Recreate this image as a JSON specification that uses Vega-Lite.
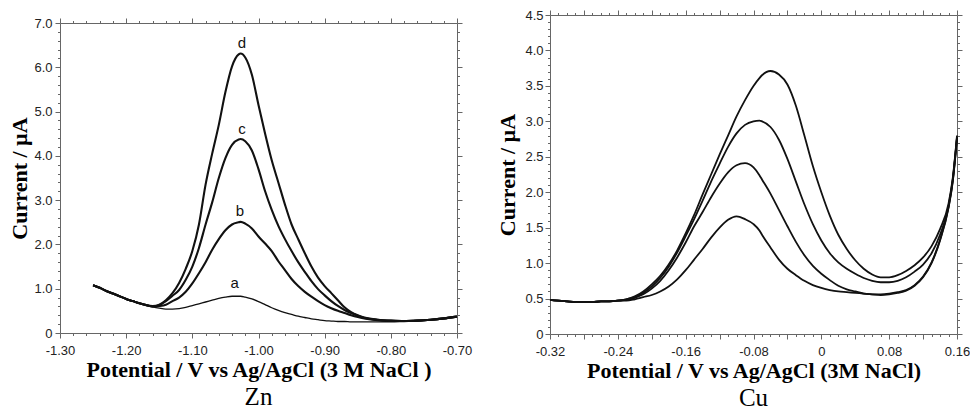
{
  "$schema": "https://vega.github.io/schema/vega-lite/v6.json",
  "background": "white",
  "padding": {"left": 8, "top": 9, "right": 5, "bottom": 2},
  "spacing": 24,
  "config": {
    "view": {"stroke": null},
    "axis": {"domainColor": "#666", "tickColor": "#666", "labelColor": "#222", "labelFont": "Liberation Sans", "labelFontSize": 13, "labelFlush": false, "labelOverlap": false, "grid": false, "titleColor": "#000", "titleFont": "Liberation Serif", "titleFontWeight": "bold", "titleFontSize": 22, "domainWidth": 1, "tickWidth": 1}
  },
  "hconcat": [
    {
      "width": 397,
      "height": 318,
      "title": {"text": "Zn", "orient": "bottom", "font": "Liberation Serif", "fontSize": 25, "fontWeight": "normal", "color": "#000", "offset": 5},
      "data": {"values": [
        {"v": -1.25, "a": 1.08, "b": 1.08, "c": 1.08, "d": 1.08},
        {"v": -1.24, "a": 1.02, "b": 1.02, "c": 1.02, "d": 1.02},
        {"v": -1.23, "a": 0.95, "b": 0.95, "c": 0.95, "d": 0.95},
        {"v": -1.22, "a": 0.89, "b": 0.89, "c": 0.89, "d": 0.89},
        {"v": -1.21, "a": 0.83, "b": 0.83, "c": 0.83, "d": 0.83},
        {"v": -1.2, "a": 0.77, "b": 0.77, "c": 0.77, "d": 0.77},
        {"v": -1.19, "a": 0.72, "b": 0.72, "c": 0.72, "d": 0.72},
        {"v": -1.18, "a": 0.67, "b": 0.67, "c": 0.67, "d": 0.67},
        {"v": -1.17, "a": 0.63, "b": 0.63, "c": 0.63, "d": 0.63},
        {"v": -1.16, "a": 0.59, "b": 0.6, "c": 0.6, "d": 0.61},
        {"v": -1.15, "a": 0.56, "b": 0.61, "c": 0.63, "d": 0.64},
        {"v": -1.14, "a": 0.54, "b": 0.64, "c": 0.72, "d": 0.74},
        {"v": -1.13, "a": 0.54, "b": 0.72, "c": 0.84, "d": 0.9},
        {"v": -1.12, "a": 0.55, "b": 0.8, "c": 0.97, "d": 1.13},
        {"v": -1.11, "a": 0.58, "b": 0.93, "c": 1.2, "d": 1.45},
        {"v": -1.1, "a": 0.62, "b": 1.12, "c": 1.5, "d": 1.85},
        {"v": -1.09, "a": 0.66, "b": 1.35, "c": 1.92, "d": 2.45},
        {"v": -1.08, "a": 0.7, "b": 1.6, "c": 2.45, "d": 3.35},
        {"v": -1.07, "a": 0.74, "b": 1.88, "c": 2.95, "d": 4.05},
        {"v": -1.06, "a": 0.78, "b": 2.12, "c": 3.5, "d": 4.7},
        {"v": -1.05, "a": 0.81, "b": 2.32, "c": 3.95, "d": 5.44},
        {"v": -1.04, "a": 0.83, "b": 2.45, "c": 4.25, "d": 6.02},
        {"v": -1.03, "a": 0.83, "b": 2.5, "c": 4.37, "d": 6.29},
        {"v": -1.027, "a": 0.83, "b": 2.51, "c": 4.38, "d": 6.31},
        {"v": -1.02, "a": 0.81, "b": 2.47, "c": 4.33, "d": 6.22},
        {"v": -1.01, "a": 0.77, "b": 2.36, "c": 4.12, "d": 5.83},
        {"v": -1.0, "a": 0.71, "b": 2.18, "c": 3.7, "d": 5.15},
        {"v": -0.99, "a": 0.64, "b": 2.02, "c": 3.2, "d": 4.5},
        {"v": -0.98, "a": 0.57, "b": 1.85, "c": 2.78, "d": 3.9},
        {"v": -0.97, "a": 0.51, "b": 1.62, "c": 2.42, "d": 3.4},
        {"v": -0.96, "a": 0.46, "b": 1.42, "c": 2.12, "d": 2.9},
        {"v": -0.95, "a": 0.42, "b": 1.22, "c": 1.85, "d": 2.45},
        {"v": -0.94, "a": 0.38, "b": 1.06, "c": 1.6, "d": 2.12},
        {"v": -0.93, "a": 0.35, "b": 0.93, "c": 1.38, "d": 1.8},
        {"v": -0.92, "a": 0.32, "b": 0.82, "c": 1.17, "d": 1.5},
        {"v": -0.91, "a": 0.3, "b": 0.72, "c": 0.99, "d": 1.25},
        {"v": -0.9, "a": 0.28, "b": 0.63, "c": 0.85, "d": 1.06},
        {"v": -0.89, "a": 0.27, "b": 0.56, "c": 0.72, "d": 0.9},
        {"v": -0.88, "a": 0.26, "b": 0.5, "c": 0.61, "d": 0.74},
        {"v": -0.87, "a": 0.26, "b": 0.45, "c": 0.52, "d": 0.58},
        {"v": -0.86, "a": 0.25, "b": 0.4, "c": 0.45, "d": 0.47},
        {"v": -0.85, "a": 0.25, "b": 0.36, "c": 0.39, "d": 0.4},
        {"v": -0.84, "a": 0.25, "b": 0.33, "c": 0.34, "d": 0.35},
        {"v": -0.82, "a": 0.25, "b": 0.29, "c": 0.3, "d": 0.3},
        {"v": -0.8, "a": 0.25, "b": 0.27, "c": 0.28, "d": 0.28},
        {"v": -0.78, "a": 0.26, "b": 0.27, "c": 0.27, "d": 0.27},
        {"v": -0.76, "a": 0.27, "b": 0.28, "c": 0.28, "d": 0.28},
        {"v": -0.74, "a": 0.29, "b": 0.3, "c": 0.3, "d": 0.3},
        {"v": -0.72, "a": 0.32, "b": 0.33, "c": 0.33, "d": 0.33},
        {"v": -0.7, "a": 0.36, "b": 0.37, "c": 0.37, "d": 0.37}
      ]},
      "layer": [
        {
          "transform": [{"fold": ["b", "c", "d"], "as": ["s", "i"]}],
          "mark": {"type": "line", "color": "#111", "strokeWidth": 2.1, "interpolate": "monotone"},
          "encoding": {
            "x": {"field": "v", "type": "quantitative", "scale": {"domain": [-1.3, -0.7], "nice": false, "zero": false},
              "axis": {"orient": "bottom", "values": [-1.3,-1.28,-1.26,-1.24,-1.22,-1.2,-1.18,-1.16,-1.14,-1.12,-1.1,-1.08,-1.06,-1.04,-1.02,-1,-0.98,-0.96,-0.94,-0.92,-0.9,-0.88,-0.86,-0.84,-0.82,-0.8,-0.78,-0.76,-0.74,-0.72,-0.7],
                "labelExpr": "abs(datum.value*10 - round(datum.value*10)) < 0.001 ? (datum.value < 0 ? '-' : '') + format(abs(datum.value), '.2f') : ''",
                "tickSize": {"condition": {"test": "abs(datum.value*10 - round(datum.value*10)) < 0.001", "value": 5}, "value": 2.5},
                "labelPadding": 6, "titlePadding": 2, "title": "Potential / V vs Ag/AgCl (3 M NaCl )"}},
            "y": {"field": "i", "type": "quantitative", "scale": {"domain": [0, 7], "nice": false, "range": [318, 8]},
              "axis": {"orient": "left", "values": [0,0.2,0.4,0.6,0.8,1,1.2,1.4,1.6,1.8,2,2.2,2.4,2.6,2.8,3,3.2,3.4,3.6,3.8,4,4.2,4.4,4.6,4.8,5,5.2,5.4,5.6,5.8,6,6.2,6.4,6.6,6.8,7],
                "labelExpr": "abs(datum.value - round(datum.value)) < 0.001 ? (datum.value == 0 ? '0' : format(datum.value, '.1f')) : ''",
                "tickSize": {"condition": {"test": "abs(datum.value - round(datum.value)) < 0.001", "value": 5}, "value": 2.5},
                "labelPadding": 3, "titlePadding": 2, "title": "Current / µA"}},
            "detail": {"field": "s"}
          }
        },
        {
          "transform": [{"fold": ["a"], "as": ["s", "i"]}],
          "mark": {"type": "line", "color": "#111", "strokeWidth": 1.3, "interpolate": "monotone"},
          "encoding": {
            "x": {"field": "v", "type": "quantitative", "scale": {"domain": [-1.3, -0.7], "nice": false, "zero": false},
              "axis": {"orient": "top", "offset": -8, "labels": false, "title": null, "values": [-1.3,-1.28,-1.26,-1.24,-1.22,-1.2,-1.18,-1.16,-1.14,-1.12,-1.1,-1.08,-1.06,-1.04,-1.02,-1,-0.98,-0.96,-0.94,-0.92,-0.9,-0.88,-0.86,-0.84,-0.82,-0.8,-0.78,-0.76,-0.74,-0.72,-0.7],
                "tickSize": {"condition": {"test": "abs(datum.value*10 - round(datum.value*10)) < 0.001", "value": 5}, "value": 2.5}}},
            "y": {"field": "i", "type": "quantitative", "scale": {"domain": [0, 7], "nice": false, "range": [318, 8]},
              "axis": {"orient": "right", "labels": false, "title": null, "values": [0,0.2,0.4,0.6,0.8,1,1.2,1.4,1.6,1.8,2,2.2,2.4,2.6,2.8,3,3.2,3.4,3.6,3.8,4,4.2,4.4,4.6,4.8,5,5.2,5.4,5.6,5.8,6,6.2,6.4,6.6,6.8,7],
                "tickSize": {"condition": {"test": "abs(datum.value - round(datum.value)) < 0.001", "value": 5}, "value": 2.5}}}
          }
        },
        {
          "data": {"values": [
            {"v": -1.025, "i": 6.55, "t": "d"},
            {"v": -1.025, "i": 4.6, "t": "c"},
            {"v": -1.028, "i": 2.75, "t": "b"},
            {"v": -1.036, "i": 1.14, "t": "a"}
          ]},
          "mark": {"type": "text", "font": "Liberation Sans", "fontSize": 15, "color": "#111", "baseline": "middle"},
          "encoding": {
            "x": {"field": "v", "type": "quantitative", "scale": {"domain": [-1.3, -0.7], "nice": false, "zero": false}, "axis": null},
            "y": {"field": "i", "type": "quantitative", "scale": {"domain": [0, 7], "nice": false, "range": [318, 8]}, "axis": null},
            "text": {"field": "t"}
          }
        }
      ],
      "resolve": {"axis": {"x": "independent", "y": "independent"}}
    },
    {
      "width": 407,
      "height": 319,
      "title": {"text": "Cu", "orient": "bottom", "font": "Liberation Serif", "fontSize": 25, "fontWeight": "normal", "color": "#000", "offset": 5},
      "data": {"values": [
        {"v": -0.32, "c1": 0.48, "c2": 0.48, "c3": 0.48, "c4": 0.48},
        {"v": -0.31, "c1": 0.47, "c2": 0.47, "c3": 0.47, "c4": 0.47},
        {"v": -0.3, "c1": 0.46, "c2": 0.46, "c3": 0.46, "c4": 0.46},
        {"v": -0.29, "c1": 0.45, "c2": 0.45, "c3": 0.45, "c4": 0.45},
        {"v": -0.28, "c1": 0.45, "c2": 0.45, "c3": 0.45, "c4": 0.45},
        {"v": -0.27, "c1": 0.45, "c2": 0.45, "c3": 0.45, "c4": 0.45},
        {"v": -0.26, "c1": 0.46, "c2": 0.46, "c3": 0.46, "c4": 0.46},
        {"v": -0.25, "c1": 0.46, "c2": 0.46, "c3": 0.46, "c4": 0.46},
        {"v": -0.24, "c1": 0.47, "c2": 0.47, "c3": 0.47, "c4": 0.47},
        {"v": -0.23, "c1": 0.47, "c2": 0.48, "c3": 0.49, "c4": 0.49},
        {"v": -0.22, "c1": 0.49, "c2": 0.51, "c3": 0.52, "c4": 0.53},
        {"v": -0.21, "c1": 0.52, "c2": 0.56, "c3": 0.58, "c4": 0.6},
        {"v": -0.2, "c1": 0.55, "c2": 0.64, "c3": 0.67, "c4": 0.7},
        {"v": -0.19, "c1": 0.6, "c2": 0.75, "c3": 0.79, "c4": 0.82},
        {"v": -0.18, "c1": 0.67, "c2": 0.9, "c3": 0.95, "c4": 0.98},
        {"v": -0.17, "c1": 0.77, "c2": 1.08, "c3": 1.15, "c4": 1.18},
        {"v": -0.16, "c1": 0.9, "c2": 1.29, "c3": 1.38, "c4": 1.42},
        {"v": -0.15, "c1": 1.05, "c2": 1.52, "c3": 1.62, "c4": 1.68},
        {"v": -0.14, "c1": 1.2, "c2": 1.72, "c3": 1.88, "c4": 1.97},
        {"v": -0.13, "c1": 1.36, "c2": 1.93, "c3": 2.15, "c4": 2.25},
        {"v": -0.12, "c1": 1.5, "c2": 2.12, "c3": 2.4, "c4": 2.53},
        {"v": -0.11, "c1": 1.61, "c2": 2.28, "c3": 2.64, "c4": 2.8},
        {"v": -0.1, "c1": 1.66, "c2": 2.38, "c3": 2.83, "c4": 3.07},
        {"v": -0.09, "c1": 1.62, "c2": 2.41, "c3": 2.95, "c4": 3.3},
        {"v": -0.08, "c1": 1.55, "c2": 2.35, "c3": 3.0, "c4": 3.5},
        {"v": -0.073, "c1": 1.46, "c2": 2.24, "c3": 3.01, "c4": 3.61},
        {"v": -0.07, "c1": 1.4, "c2": 2.18, "c3": 3.0, "c4": 3.65},
        {"v": -0.06, "c1": 1.22, "c2": 1.98, "c3": 2.92, "c4": 3.71},
        {"v": -0.05, "c1": 1.05, "c2": 1.75, "c3": 2.74, "c4": 3.66},
        {"v": -0.04, "c1": 0.92, "c2": 1.52, "c3": 2.47, "c4": 3.52},
        {"v": -0.03, "c1": 0.83, "c2": 1.3, "c3": 2.15, "c4": 3.22},
        {"v": -0.02, "c1": 0.75, "c2": 1.11, "c3": 1.83, "c4": 2.8},
        {"v": -0.01, "c1": 0.69, "c2": 0.96, "c3": 1.55, "c4": 2.37},
        {"v": 0, "c1": 0.65, "c2": 0.85, "c3": 1.32, "c4": 2.0},
        {"v": 0.01, "c1": 0.62, "c2": 0.76, "c3": 1.14, "c4": 1.67},
        {"v": 0.02, "c1": 0.6, "c2": 0.68, "c3": 1.01, "c4": 1.4},
        {"v": 0.03, "c1": 0.59, "c2": 0.63, "c3": 0.92, "c4": 1.2},
        {"v": 0.04, "c1": 0.58, "c2": 0.6, "c3": 0.85, "c4": 1.04},
        {"v": 0.05, "c1": 0.57, "c2": 0.57, "c3": 0.79, "c4": 0.92},
        {"v": 0.06, "c1": 0.56, "c2": 0.56, "c3": 0.75, "c4": 0.84},
        {"v": 0.07, "c1": 0.56, "c2": 0.55, "c3": 0.73, "c4": 0.8},
        {"v": 0.08, "c1": 0.57, "c2": 0.56, "c3": 0.73, "c4": 0.8},
        {"v": 0.09, "c1": 0.59, "c2": 0.58, "c3": 0.75, "c4": 0.83},
        {"v": 0.1, "c1": 0.62, "c2": 0.61, "c3": 0.8, "c4": 0.89},
        {"v": 0.11, "c1": 0.69, "c2": 0.68, "c3": 0.88, "c4": 0.97},
        {"v": 0.12, "c1": 0.81, "c2": 0.8, "c3": 0.98, "c4": 1.08},
        {"v": 0.13, "c1": 1.01, "c2": 1.0, "c3": 1.14, "c4": 1.24},
        {"v": 0.14, "c1": 1.33, "c2": 1.32, "c3": 1.4, "c4": 1.48},
        {"v": 0.15, "c1": 1.79, "c2": 1.78, "c3": 1.8, "c4": 1.84},
        {"v": 0.155, "c1": 2.16, "c2": 2.15, "c3": 2.18, "c4": 2.2},
        {"v": 0.16, "c1": 2.77, "c2": 2.76, "c3": 2.78, "c4": 2.8}
      ]},
      "layer": [
        {
          "transform": [{"fold": ["c1", "c2"], "as": ["s", "i"]}],
          "mark": {"type": "line", "color": "#111", "strokeWidth": 1.8, "interpolate": "monotone"},
          "encoding": {
            "x": {"field": "v", "type": "quantitative", "scale": {"domain": [-0.32, 0.16], "nice": false, "zero": false},
              "axis": {"orient": "bottom", "values": [-0.32,-0.31,-0.3,-0.29,-0.28,-0.27,-0.26,-0.25,-0.24,-0.23,-0.22,-0.21,-0.2,-0.19,-0.18,-0.17,-0.16,-0.15,-0.14,-0.13,-0.12,-0.11,-0.1,-0.09,-0.08,-0.07,-0.06,-0.05,-0.04,-0.03,-0.02,-0.01,0,0.01,0.02,0.03,0.04,0.05,0.06,0.07,0.08,0.09,0.1,0.11,0.12,0.13,0.14,0.15,0.16],
                "labelExpr": "abs(datum.value*12.5 - round(datum.value*12.5)) < 0.001 ? (abs(datum.value) < 0.0001 ? '0' : (datum.value < 0 ? '-' : '') + format(abs(datum.value), '.2f')) : ''",
                "tickSize": {"condition": {"test": "abs(datum.value*25 - round(datum.value*25)) < 0.001", "value": 5}, "value": 2.5},
                "labelPadding": 6, "titlePadding": 2, "title": "Potential / V vs Ag/AgCl (3M NaCl)"}},
            "y": {"field": "i", "type": "quantitative", "scale": {"domain": [0, 4.5], "nice": false},
              "axis": {"orient": "left", "values": [0,0.1,0.2,0.3,0.4,0.5,0.6,0.7,0.8,0.9,1,1.1,1.2,1.3,1.4,1.5,1.6,1.7,1.8,1.9,2,2.1,2.2,2.3,2.4,2.5,2.6,2.7,2.8,2.9,3,3.1,3.2,3.3,3.4,3.5,3.6,3.7,3.8,3.9,4,4.1,4.2,4.3,4.4,4.5],
                "labelExpr": "abs(datum.value*2 - round(datum.value*2)) < 0.001 ? (datum.value == 0 ? '0' : format(datum.value, '.1f')) : ''",
                "tickSize": {"condition": {"test": "abs(datum.value*2 - round(datum.value*2)) < 0.001", "value": 5}, "value": 2.5},
                "labelPadding": 2, "titlePadding": 5, "title": "Current / µA"}},
            "detail": {"field": "s"}
          }
        },
        {
          "transform": [{"fold": ["c3", "c4"], "as": ["s", "i"]}],
          "mark": {"type": "line", "color": "#111", "strokeWidth": 1.8, "interpolate": "monotone"},
          "encoding": {
            "x": {"field": "v", "type": "quantitative", "scale": {"domain": [-0.32, 0.16], "nice": false, "zero": false},
              "axis": {"orient": "top", "labels": false, "title": null, "values": [-0.32,-0.31,-0.3,-0.29,-0.28,-0.27,-0.26,-0.25,-0.24,-0.23,-0.22,-0.21,-0.2,-0.19,-0.18,-0.17,-0.16,-0.15,-0.14,-0.13,-0.12,-0.11,-0.1,-0.09,-0.08,-0.07,-0.06,-0.05,-0.04,-0.03,-0.02,-0.01,0,0.01,0.02,0.03,0.04,0.05,0.06,0.07,0.08,0.09,0.1,0.11,0.12,0.13,0.14,0.15,0.16],
                "tickSize": {"condition": {"test": "abs(datum.value*25 - round(datum.value*25)) < 0.001", "value": 5}, "value": 2.5}}},
            "y": {"field": "i", "type": "quantitative", "scale": {"domain": [0, 4.5], "nice": false},
              "axis": {"orient": "right", "labels": false, "title": null, "values": [0,0.1,0.2,0.3,0.4,0.5,0.6,0.7,0.8,0.9,1,1.1,1.2,1.3,1.4,1.5,1.6,1.7,1.8,1.9,2,2.1,2.2,2.3,2.4,2.5,2.6,2.7,2.8,2.9,3,3.1,3.2,3.3,3.4,3.5,3.6,3.7,3.8,3.9,4,4.1,4.2,4.3,4.4,4.5],
                "tickSize": {"condition": {"test": "abs(datum.value*2 - round(datum.value*2)) < 0.001", "value": 5}, "value": 2.5}}},
            "detail": {"field": "s"}
          }
        }
      ],
      "resolve": {"axis": {"x": "independent", "y": "independent"}}
    }
  ]
}
